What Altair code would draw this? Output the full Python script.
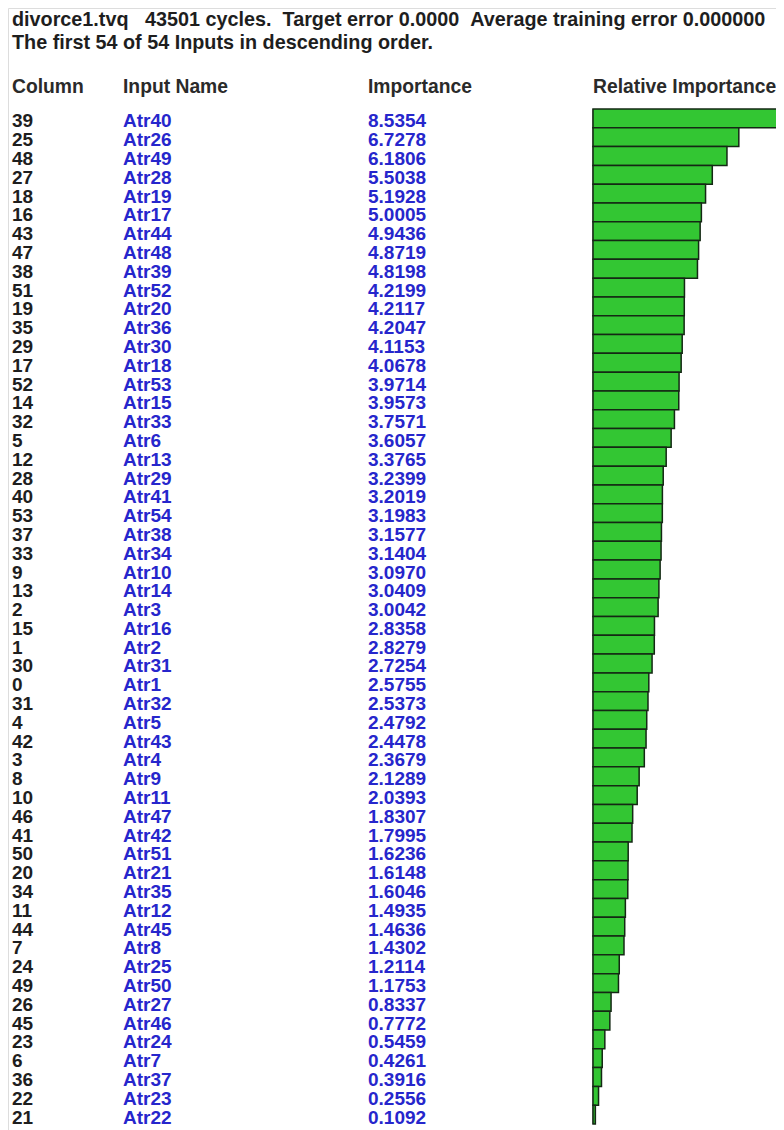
import altair as alt
import pandas as pd

columns = [39, 25, 48, 27, 18, 16, 43, 47, 38, 51, 19, 35, 29, 17, 52, 14, 32, 5, 12, 28,
           40, 53, 37, 33, 9, 13, 2, 15, 1, 30, 0, 31, 4, 42, 3, 8, 10, 46, 41, 50,
           20, 34, 11, 44, 7, 24, 49, 26, 45, 23, 6, 36, 22, 21]
names = ["Atr40", "Atr26", "Atr49", "Atr28", "Atr19", "Atr17", "Atr44", "Atr48", "Atr39", "Atr52",
         "Atr20", "Atr36", "Atr30", "Atr18", "Atr53", "Atr15", "Atr33", "Atr6", "Atr13", "Atr29",
         "Atr41", "Atr54", "Atr38", "Atr34", "Atr10", "Atr14", "Atr3", "Atr16", "Atr2", "Atr31",
         "Atr1", "Atr32", "Atr5", "Atr43", "Atr4", "Atr9", "Atr11", "Atr47", "Atr42", "Atr51",
         "Atr21", "Atr35", "Atr12", "Atr45", "Atr8", "Atr25", "Atr50", "Atr27", "Atr46", "Atr24",
         "Atr7", "Atr37", "Atr23", "Atr22"]
importance = [8.5354, 6.7278, 6.1806, 5.5038, 5.1928, 5.0005, 4.9436, 4.8719, 4.8198, 4.2199,
              4.2117, 4.2047, 4.1153, 4.0678, 3.9714, 3.9573, 3.7571, 3.6057, 3.3765, 3.2399,
              3.2019, 3.1983, 3.1577, 3.1404, 3.0970, 3.0409, 3.0042, 2.8358, 2.8279, 2.7254,
              2.5755, 2.5373, 2.4792, 2.4478, 2.3679, 2.1289, 2.0393, 1.8307, 1.7995, 1.6236,
              1.6148, 1.6046, 1.4935, 1.4636, 1.4302, 1.2114, 1.1753, 0.8337, 0.7772, 0.5459,
              0.4261, 0.3916, 0.2556, 0.1092]

title_line1 = "divorce1.tvq\u00a0\u00a0\u00a043501 cycles.\u00a0\u00a0Target error 0.0000\u00a0\u00a0Average training error 0.000000"
title_line2 = "The first 54 of 54 Inputs in descending order."
headers = ["Column", "Input Name", "Importance", "Relative Importance"]

df = pd.DataFrame({
    "rank": list(range(len(columns))),
    "column": [str(c) for c in columns],
    "name": names,
    "importance": importance,
})

FONT = "Liberation Sans"
BLUE = "#2626cc"
DARK = "#1e1e1e"

yenc = alt.Y("rank:O", axis=None,
             scale=alt.Scale(range=[101, 1116], paddingInner=0, paddingOuter=0))

base = alt.Chart(df)

txt_kw = dict(font=FONT, fontSize=19, fontWeight="bold", align="left", baseline="middle", dy=3)

col_text = base.mark_text(color=DARK, **txt_kw).encode(x=alt.value(4), y=yenc, text="column:N")
name_text = base.mark_text(color=BLUE, **txt_kw).encode(x=alt.value(115), y=yenc, text="name:N")
imp_text = base.mark_text(color=BLUE, **txt_kw).encode(
    x=alt.value(360), y=yenc, text=alt.Text("importance:Q", format=".4f"))

xscale = alt.Scale(domain=[0, max(importance)], range=[585, 770])

axis_line = alt.Chart(pd.DataFrame({"v": [0]})).mark_rule(color="#a0a0a0", strokeWidth=2).encode(
    x=alt.X("v:Q", scale=xscale, axis=None), y=alt.value(101), y2=alt.value(1116))

bars = base.mark_bar(color="#33c633", stroke="#142814", strokeWidth=1.5).encode(
    x=alt.X("importance:Q", scale=xscale, axis=None),
    x2=alt.datum(0),
    y=yenc,
)

one = alt.Chart(pd.DataFrame({"a": [0]}))
t1 = one.mark_text(text=title_line1, font=FONT, fontSize=19.8, fontWeight="bold", color=DARK,
                   align="left", baseline="alphabetic").encode(x=alt.value(4), y=alt.value(18))
t2 = one.mark_text(text=title_line2, font=FONT, fontSize=19.8, fontWeight="bold", color=DARK,
                   align="left", baseline="alphabetic").encode(x=alt.value(4), y=alt.value(41))

header_x = [4, 115, 360, 585]
hdrs = [one.mark_text(text=h, font=FONT, fontSize=19.3, fontWeight="bold", color="#2a2a2a",
                      align="left", baseline="alphabetic").encode(x=alt.value(hx), y=alt.value(85))
        for h, hx in zip(headers, header_x)]

chart = alt.layer(axis_line, bars, col_text, name_text, imp_text, t1, t2, *hdrs).properties(
    width=768, height=1122, padding=0, autosize=alt.AutoSizeParams(type="none")
).configure_view(stroke=None).configure(background="white")

chart.save("out.html", embed_options={"renderer": "svg", "actions": False})
